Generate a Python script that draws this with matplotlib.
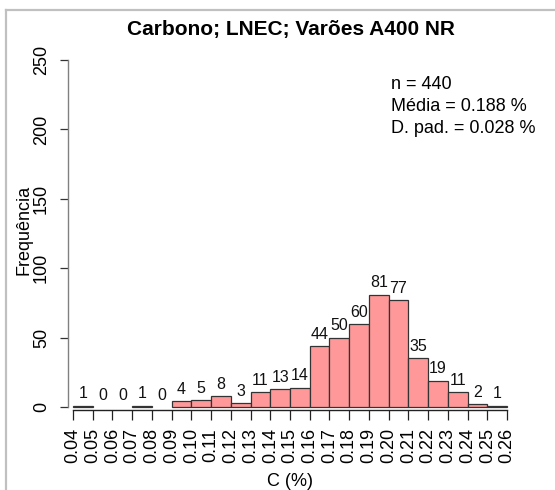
import matplotlib
matplotlib.use("Agg")
import matplotlib.pyplot as plt
from matplotlib.lines import Line2D
import numpy as np

plt.rcParams['font.family'] = ['Liberation Sans', 'DejaVu Sans']

bin_edges = [0.04, 0.05, 0.06, 0.07, 0.08, 0.09, 0.10, 0.11, 0.12, 0.13, 0.14, 0.15,
             0.16, 0.17, 0.18, 0.19, 0.20, 0.21, 0.22, 0.23, 0.24, 0.25, 0.26]
counts = [1, 0, 0, 1, 0, 4, 5, 8, 3, 11, 13, 14, 44, 50, 60, 81, 77, 35, 19, 11, 2, 1]
tick_labels = ["0.04", "0.05", "0.06", "0.07", "0.08", "0.09", "0.10", "0.11", "0.12",
               "0.13", "0.14", "0.15", "0.16", "0.17", "0.18", "0.19", "0.20", "0.21",
               "0.22", "0.23", "0.24", "0.25", "0.26"]
y_ticks = [0, 50, 100, 150, 200, 250]
title = "Carbono; LNEC; Varões A400 NR"
stats_text = ["n = 440", "Média = 0.188 %", "D. pad. = 0.028 %"]

W, H = 555, 490
fig = plt.figure(figsize=(W / 100, H / 100), dpi=100)

px_left, px_right = 68, 512
px_bottom, px_top = 410, 46
ax = fig.add_axes([px_left / W, 1 - px_bottom / H, (px_right - px_left) / W, (px_bottom - px_top) / H])

ppu_x = (507 - 73) / 0.22
x0 = 0.04 - (73 - px_left) / ppu_x
x1 = 0.26 + (px_right - 507) / ppu_x
ppu_y = (407 - 60) / 250
y0 = -(px_bottom - 407) / ppu_y
y1 = 250 + (60 - px_top) / ppu_y
ax.set_xlim(x0, x1)
ax.set_ylim(y0, y1)

lefts = np.array(bin_edges[:-1])
widths = np.diff(bin_edges)
bars = ax.bar(lefts, counts, width=widths, align='edge', color='#ff9999', edgecolor='#333333', linewidth=0.9)
for b, c in zip(bars, counts):
    if c == 0:
        b.set_visible(False)

for l, w, c in zip(lefts, widths, counts):
    ax.annotate(str(c), (l + w / 2, c), xytext=(0, 3), textcoords='offset points',
                ha='center', va='bottom', fontsize=11.5, color='#111111')

for s in ['top', 'right']:
    ax.spines[s].set_visible(False)
ax.spines['left'].set_bounds(0, 250)
ax.spines['bottom'].set_bounds(0.04, 0.26)
ax.spines['left'].set_color('#808080')
ax.spines['bottom'].set_color('#222222')
ax.spines['left'].set_linewidth(1.0)
ax.spines['bottom'].set_linewidth(1.0)

ax.set_xticks(bin_edges)
ax.set_xticklabels(tick_labels, rotation=90, fontsize=13)
ax.set_yticks(y_ticks)
ax.set_yticklabels([str(v) for v in y_ticks], rotation=90, va='center', fontsize=13)
ax.tick_params(axis='x', length=7, width=0.9, pad=6, color='#222222')
ax.tick_params(axis='y', length=6, width=0.9, pad=7, color='#333333')

fig.text(291 / W, 1 - 30 / H, title, ha='center', va='center', fontsize=15, fontweight='bold')
fig.text(290 / W, 1 - 481 / H, "C (%)", ha='center', va='center', fontsize=13)
fig.text(24 / W, 1 - 230 / H, "Frequência", ha='center', va='center', rotation=90, fontsize=13)

for i, t in enumerate(stats_text):
    fig.text(391 / W, 1 - (89 + 22 * i) / H, t, ha='left', va='baseline', fontsize=13)

fig.add_artist(Line2D([6 / W, 6 / W], [0, 1 - 10 / H], transform=fig.transFigure, color='#c0c0c0', lw=1.6))
fig.add_artist(Line2D([6 / W, 1], [1 - 10 / H, 1 - 10 / H], transform=fig.transFigure, color='#c0c0c0', lw=1.6))

fig.savefig("out.png", dpi=100)
